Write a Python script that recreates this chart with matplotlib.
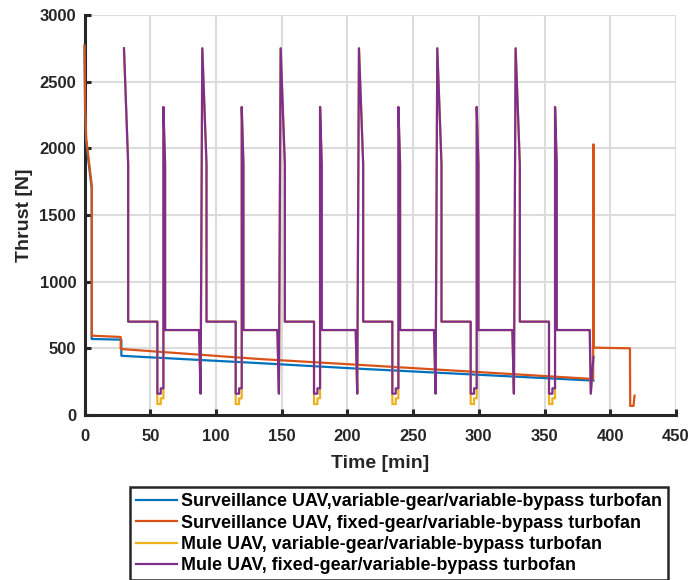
import matplotlib
matplotlib.use("Agg")
import matplotlib.pyplot as plt

plt.rcParams['font.family'] = ['Liberation Sans', 'DejaVu Sans']
plt.rcParams['font.weight'] = 'bold'

# thrust histories [N] vs mission time [min]
surv_var_t = [0.0, 0.4, 1.0, 5.4, 5.4, 28.0, 28.0, 132.8, 208.9, 387.2]
surv_var_thrust = [2770, 2300, 2070, 1700, 570, 565, 444, 389, 347, 258]

surv_fix_t = [0.0, 0.5, 1.3, 5.6, 5.6, 27.5, 27.5, 132.8, 208.9, 387.0,
              387.2, 387.4, 415.0, 415.2, 417.7, 418.5]
surv_fix_thrust = [2770, 2300, 2070, 1715, 595, 585, 495, 420, 376, 270,
                   2030, 505, 500, 68, 68, 145]

mule_t = [30.0, 33.2, 33.2, 55.4, 55.4, 58.0, 58.0, 60.0, 60.0, 61.3, 61.3, 87.1, 88.3,
          89.6, 92.8, 92.8, 115.0, 115.0, 117.6, 117.6, 119.6, 119.6, 120.9, 120.9, 146.7, 147.9,
          149.2, 152.4, 152.4, 174.6, 174.6, 177.2, 177.2, 179.2, 179.2, 180.5, 180.5, 206.3, 207.5,
          208.8, 212.0, 212.0, 234.2, 234.2, 236.8, 236.8, 238.8, 238.8, 240.1, 240.1, 265.9, 267.1,
          268.4, 271.6, 271.6, 293.8, 293.8, 296.4, 296.4, 298.4, 298.4, 299.7, 299.7, 325.5, 326.7,
          328.0, 331.2, 331.2, 353.4, 353.4, 356.0, 356.0, 358.0, 358.0, 359.3, 359.3, 384.4, 385.2,
          387.2]

mule_fix_thrust = [2750, 1880, 700, 700, 160, 160, 200, 200, 2310, 1880, 637, 637, 160,
                   2750, 1880, 700, 700, 160, 160, 200, 200, 2310, 1880, 637, 637, 160,
                   2750, 1880, 700, 700, 160, 160, 200, 200, 2310, 1880, 637, 637, 160,
                   2750, 1880, 700, 700, 160, 160, 200, 200, 2310, 1880, 637, 637, 160,
                   2750, 1880, 700, 700, 160, 160, 200, 200, 2310, 1880, 637, 637, 160,
                   2750, 1880, 700, 700, 160, 160, 200, 200, 2310, 1880, 637, 637, 160,
                   437]

mule_var_thrust = [2750, 1880, 700, 700, 82, 82, 125, 125, 2310, 1880, 637, 637, 160,
                   2750, 1880, 700, 700, 82, 82, 125, 125, 2310, 1880, 637, 637, 160,
                   2750, 1880, 700, 700, 82, 82, 125, 125, 2310, 1880, 637, 637, 160,
                   2750, 1880, 700, 700, 82, 82, 125, 125, 2310, 1880, 637, 637, 160,
                   2750, 1880, 700, 700, 82, 82, 125, 125, 2310, 1880, 637, 637, 160,
                   2750, 1880, 700, 700, 82, 82, 125, 125, 2310, 1880, 637, 637, 160,
                   437]

labels = ['Surveillance UAV,variable-gear/variable-bypass turbofan',
          'Surveillance UAV, fixed-gear/variable-bypass turbofan',
          'Mule UAV, variable-gear/variable-bypass turbofan',
          'Mule UAV, fixed-gear/variable-bypass turbofan']
colors = ['#0072BD', '#D95319', '#EDB120', '#7E2F8E']

fig = plt.figure(figsize=(6.93, 5.80), dpi=100)
ax = fig.add_axes([0.1220, 0.2845, 0.8534, 0.6897])

lw = 1.6
# lines sit above the axes frame so the t=0 start stays visible
l1, = ax.plot(surv_var_t, surv_var_thrust, color=colors[0], lw=lw, zorder=3, clip_on=False)
l2, = ax.plot(surv_fix_t, surv_fix_thrust, color=colors[1], lw=lw, zorder=3.1, clip_on=False)
l3, = ax.plot(mule_t, mule_var_thrust, color=colors[2], lw=lw, zorder=3.2)
l4, = ax.plot(mule_t, mule_fix_thrust, color=colors[3], lw=lw, zorder=3.3)

ax.set_xlim(0, 450)
ax.set_ylim(0, 3000)
ax.set_xticks(range(0, 451, 50))
ax.set_yticks(range(0, 3001, 500))
ax.grid(True, color='#dcdcdc', lw=1.5)
ax.set_axisbelow(True)

for s in ['top', 'right']:
    ax.spines[s].set_visible(False)
for s in ['left', 'bottom']:
    ax.spines[s].set_linewidth(2.2)
    ax.spines[s].set_color('#262626')

ax.tick_params(direction='in', length=4, width=2.2, color='#262626',
               labelsize=12, labelcolor='#262626')
ax.tick_params(axis='x', pad=10)
ax.tick_params(axis='y', pad=6)

ax.set_xlabel('Time [min]', fontsize=14, fontweight='bold', color='#262626', labelpad=8)
ax.set_ylabel('Thrust [N]', fontsize=14, fontweight='bold', color='#262626', labelpad=5)

leg = fig.legend([l1, l2, l3, l4], labels, loc='upper left',
                 bbox_to_anchor=(130 / 693, 1 - 487 / 580),
                 prop={'size': 12.9, 'weight': 'bold'}, fancybox=False,
                 edgecolor='#262626', handlelength=2.25, handletextpad=0.25,
                 labelspacing=0.24, borderpad=0.35, borderaxespad=0)
leg.get_frame().set_linewidth(1.8)
leg.get_frame().set_alpha(1)

fig.savefig('out.png', dpi=100)
